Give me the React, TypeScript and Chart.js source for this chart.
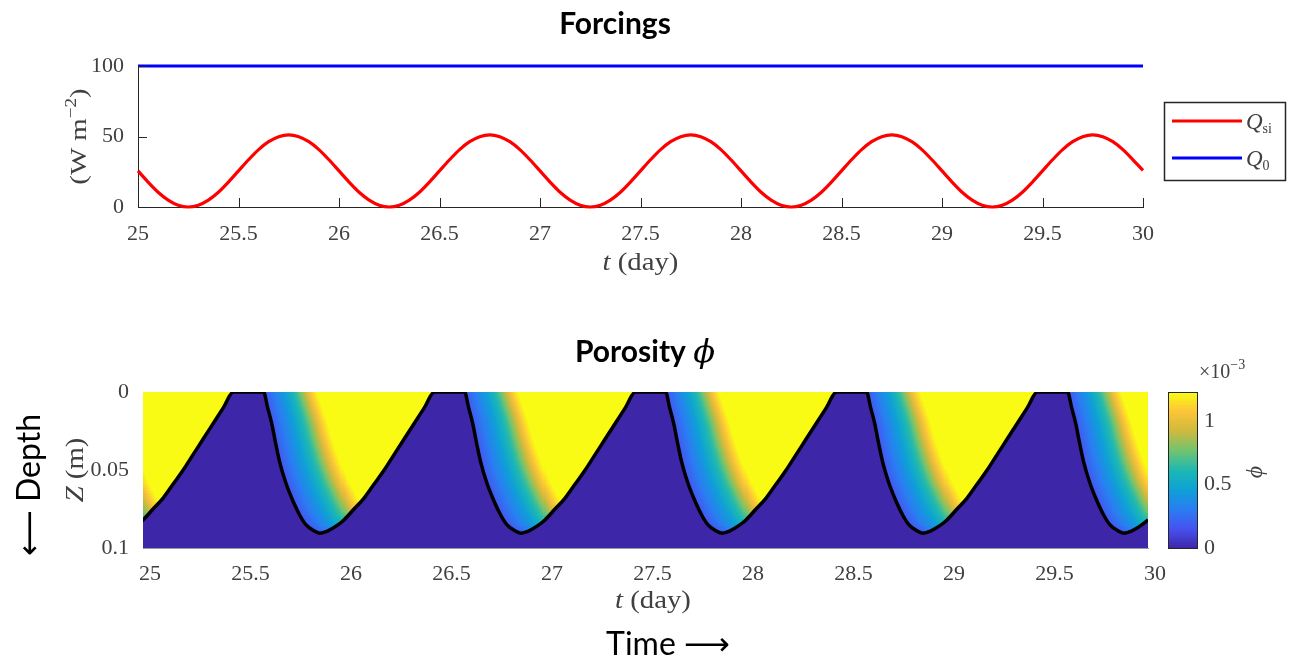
import React, { useEffect, useRef } from 'react';
import { Chart, registerables } from 'chart.js';
Chart.register(...registerables);

const SERIF = '"Liberation Serif", "DejaVu Serif", serif';
const SANS = 'Lato, "DejaVu Sans", sans-serif';
const AXIS_COLOR = '#262626';
const TEXT_COLOR = '#404040';

// ---------- top chart data (Forcings) ----------
const qDays = [25, 26, 27, 28, 29];
const qPhase = [0, 0.05, 0.1, 0.15, 0.2, 0.25, 0.3, 0.35, 0.4, 0.45, 0.5, 0.55, 0.6, 0.65, 0.7, 0.75, 0.8, 0.85, 0.9, 0.95];
const qSiValues = [25.6, 17.7, 10.5, 4.9, 1.3, 0, 1.3, 4.9, 10.5, 17.7, 25.6, 33.5, 40.7, 46.3, 49.9, 51.2, 49.9, 46.3, 40.7, 33.5];
const qSiEnd = { t: 30, v: 26 };
const q0Times = [25, 30];
const q0Values = [100, 100];

// ---------- bottom chart data (Porosity) ----------
const frontCycleStarts = [24, 25, 26, 27, 28, 29];
const frontPhase = [0.0, 0.05, 0.1, 0.15, 0.2, 0.25, 0.3, 0.35, 0.4, 0.45, 0.6, 0.62, 0.64, 0.66, 0.68, 0.71, 0.75, 0.78, 0.81, 0.85, 0.88, 0.92, 0.96];
const frontDepth = [0.082, 0.075, 0.068, 0.059, 0.05, 0.04, 0.03, 0.02, 0.01, 0.0, 0.0, 0.01, 0.02, 0.033, 0.045, 0.058, 0.071, 0.079, 0.085, 0.089, 0.0905, 0.089, 0.086];
const frontEnd = { t: 30, z: 0.082 };
// time after the front passed downward -> porosity ramp (x1e-3)
const rampWidthDepth = [0, 0.03, 0.06, 0.09];
const rampWidthDays = [0.27, 0.29, 0.32, 0.35];
const rampU = [0, 0.2, 0.37, 0.5, 0.62, 0.7, 0.8, 0.9, 1.0];
const rampNorm = [0.13, 0.25, 0.35, 0.45, 0.55, 0.65, 0.78, 0.9, 1.0];
const phiMax = 1.23;
const cbTicks = [0, 0.5, 1];
const parulaPos = [0, 0.125, 0.25, 0.375, 0.5, 0.625, 0.75, 0.875, 1];
const parulaRGB = [
  [62, 38, 168], [70, 82, 240], [42, 125, 242], [14, 160, 215], [28, 184, 178],
  [112, 196, 112], [204, 186, 62], [252, 196, 56], [249, 251, 21],
];

// ---------- derived ----------
const qSiPoints = qDays.flatMap((d) => qPhase.map((p, i) => ({ x: d + p, y: qSiValues[i] }))).concat([{ x: qSiEnd.t, y: qSiEnd.v }]);
const q0Points = q0Times.map((t, i) => ({ x: t, y: q0Values[i] }));
const frontT = frontCycleStarts.flatMap((d) => frontPhase.map((p) => d + p)).concat([frontEnd.t]);
const frontZ = frontCycleStarts.flatMap(() => frontDepth).concat([frontEnd.z]);
const frontPoints = frontT.map((t, i) => ({ x: t, y: frontZ[i] }));
const descIdx = frontPhase.map((p, i) => i).filter((i) => frontPhase[i] >= 0.6 && frontPhase[i] <= 0.88);
const descPhase = descIdx.map((i) => frontPhase[i]);
const descDepth = descIdx.map((i) => frontDepth[i]);

function interp(x: number, xs: number[], ys: number[]) {
  if (x <= xs[0]) return ys[0];
  if (x >= xs[xs.length - 1]) return ys[ys.length - 1];
  for (let i = 1; i < xs.length; i++) {
    if (x <= xs[i]) {
      const f = (x - xs[i - 1]) / (xs[i] - xs[i - 1] || 1);
      return ys[i - 1] + f * (ys[i] - ys[i - 1]);
    }
  }
  return ys[ys.length - 1];
}

function phiAt(t: number, z: number) {
  const f = interp(t, frontT, frontZ);
  if (z >= f) return 0;
  const p = interp(z, descDepth, descPhase);
  let cand = Math.floor(t) + p;
  if (cand > t) cand -= 1;
  const tau = t - cand;
  const w = interp(z, rampWidthDepth, rampWidthDays);
  return interp(tau / w, rampU, rampNorm) * phiMax;
}

const NT = 1000;
const NZ = 100;
const T0 = 25, T1 = 30, Z0 = 0, Z1 = 0.1;
const dT = (T1 - T0) / NT;
const dZ = (Z1 - Z0) / NZ;
const phiGrid: number[][] = [];
for (let i = 0; i < NT; i++) {
  const col: number[] = [];
  for (let j = 0; j < NZ; j++) col.push(phiAt(T0 + (i + 0.5) * dT, Z0 + (j + 0.5) * dZ));
  phiGrid.push(col);
}

const colorCache: Record<number, string> = {};
function parula(v: number) {
  const k = Math.max(0, Math.min(255, Math.round(v * 255)));
  if (colorCache[k]) return colorCache[k];
  const x = k / 255;
  const r = interp(x, parulaPos, parulaRGB.map((c) => c[0]));
  const g = interp(x, parulaPos, parulaRGB.map((c) => c[1]));
  const b = interp(x, parulaPos, parulaRGB.map((c) => c[2]));
  const s = `rgb(${Math.round(r)},${Math.round(g)},${Math.round(b)})`;
  colorCache[k] = s;
  return s;
}

type Part = { text: string; font: string; dy?: number };
function drawParts(ctx: CanvasRenderingContext2D, parts: Part[], x: number, y: number, align: string, color: string, sx = 1) {
  ctx.save();
  ctx.translate(x, y);
  ctx.scale(sx, 1);
  ctx.fillStyle = color;
  ctx.textAlign = 'left';
  ctx.textBaseline = 'alphabetic';
  const widths = parts.map((p) => { ctx.font = p.font; return ctx.measureText(p.text).width; });
  const total = widths.reduce((a, b) => a + b, 0);
  let cx = align === 'center' ? -total / 2 : align === 'right' ? -total : 0;
  parts.forEach((p, i) => { ctx.font = p.font; ctx.fillText(p.text, cx, p.dy || 0); cx += widths[i]; });
  ctx.restore();
}
function drawRotated(ctx: CanvasRenderingContext2D, parts: Part[], baselineX: number, centerY: number, color: string, sx = 1) {
  ctx.save();
  ctx.translate(baselineX, centerY);
  ctx.rotate(-Math.PI / 2);
  drawParts(ctx, parts, 0, 0, 'center', color, sx);
  ctx.restore();
}

const tickFont = { family: SERIF, size: 22 };
const fmt = (v: number) => String(Number(Number(v).toFixed(3)));

const forcingPlugin = {
  id: 'forcingDecor',
  afterDraw(chart: any) {
    const { ctx, chartArea: a, scales } = chart;
    const x = scales.x, y = scales.y;
    ctx.save();
    ctx.strokeStyle = AXIS_COLOR;
    ctx.lineWidth = 1;
    ctx.beginPath();
    x.ticks.forEach((t: any) => {
      const px = Math.round(x.getPixelForValue(t.value)) + 0.5;
      ctx.moveTo(px, a.bottom);
      ctx.lineTo(px, a.bottom - 9);
    });
    y.ticks.forEach((t: any) => {
      const py = Math.round(y.getPixelForValue(t.value)) + 0.5;
      ctx.moveTo(a.left, py);
      ctx.lineTo(a.left + 9, py);
    });
    ctx.stroke();
    // title
    drawParts(ctx, [{ text: 'Forcings', font: `bold 30px ${SANS}` }], 615, 34, 'center', '#000');
    // x label
    drawParts(ctx, [{ text: 't', font: `italic 25px ${SERIF}` }, { text: ' (day)', font: `25px ${SERIF}` }], (a.left + a.right) / 2, 270, 'center', TEXT_COLOR, 1.15);
    // y label
    drawRotated(ctx, [{ text: '(W m', font: `24px ${SERIF}` }, { text: '\u22122', font: `16px ${SERIF}`, dy: -10 }, { text: ')', font: `24px ${SERIF}` }], 86, (a.top + a.bottom) / 2, TEXT_COLOR, 1.2);
    // legend
    ctx.lineWidth = 1.5;
    ctx.strokeStyle = AXIS_COLOR;
    ctx.strokeRect(1164.5, 102.5, 121, 78);
    const ds = chart.data.datasets;
    const rows = [
      { y: 121, color: ds[0].borderColor, sub: 'si' },
      { y: 158, color: ds[1].borderColor, sub: '0' },
    ];
    rows.forEach((r) => {
      ctx.strokeStyle = r.color;
      ctx.lineWidth = 3;
      ctx.beginPath();
      ctx.moveTo(1172, r.y);
      ctx.lineTo(1242, r.y);
      ctx.stroke();
      drawParts(ctx, [{ text: 'Q', font: `italic 23px ${SERIF}` }, { text: r.sub, font: `14px ${SERIF}`, dy: 4 }], 1246, r.y + 8, 'left', TEXT_COLOR);
    });
    ctx.restore();
  },
};

const heatmapPlugin = {
  id: 'heatmap',
  beforeDatasetsDraw(chart: any) {
    const { ctx, chartArea: a, scales } = chart;
    const x = scales.x, y = scales.y;
    ctx.save();
    ctx.beginPath();
    ctx.rect(a.left, a.top, a.right - a.left, a.bottom - a.top);
    ctx.clip();
    for (let i = 0; i < NT; i++) {
      const t0 = T0 + i * dT;
      const x0 = Math.floor(x.getPixelForValue(t0));
      const x1 = Math.ceil(x.getPixelForValue(t0 + dT));
      let j = 0;
      while (j < NZ) {
        const col = parula(phiGrid[i][j] / phiMax);
        let k = j + 1;
        while (k < NZ && parula(phiGrid[i][k] / phiMax) === col) k++;
        const ya = y.getPixelForValue(Z0 + j * dZ);
        const yb = y.getPixelForValue(Z0 + k * dZ);
        const top = Math.floor(Math.min(ya, yb));
        const bot = Math.ceil(Math.max(ya, yb));
        ctx.fillStyle = col;
        ctx.fillRect(x0, top, Math.max(1, x1 - x0), bot - top);
        j = k;
      }
    }
    ctx.restore();
  },
  afterDraw(chart: any) {
    const { ctx, chartArea: a, scales } = chart;
    const cb = scales.cb;
    ctx.save();
    // colorbar
    const cbL = 1168, cbR = 1197;
    const steps = 123;
    for (let s = 0; s < steps; s++) {
      const v0 = (s / steps) * phiMax, v1 = ((s + 1) / steps) * phiMax;
      const ya = cb.getPixelForValue(v0), yb = cb.getPixelForValue(v1);
      ctx.fillStyle = parula((v0 + v1) / 2 / phiMax);
      ctx.fillRect(cbL, Math.floor(yb), cbR - cbL, Math.ceil(ya) - Math.floor(yb));
    }
    ctx.strokeStyle = AXIS_COLOR;
    ctx.lineWidth = 1;
    const cTop = cb.getPixelForValue(phiMax), cBot = cb.getPixelForValue(0);
    ctx.strokeRect(cbL + 0.5, Math.round(cTop) + 0.5, cbR - cbL, Math.round(cBot - cTop));
    ctx.fillStyle = TEXT_COLOR;
    ctx.font = `22px ${SERIF}`;
    ctx.textAlign = 'left';
    ctx.textBaseline = 'middle';
    cbTicks.forEach((v) => ctx.fillText(String(v), 1204, cb.getPixelForValue(v)));
    drawParts(ctx, [{ text: '\u00d710', font: `20px ${SERIF}` }, { text: '\u22123', font: `14px ${SERIF}`, dy: -9 }], 1199, 78, 'left', TEXT_COLOR);
    drawRotated(ctx, [{ text: '\u03d5', font: `italic 24px ${SERIF}` }], 1262, 172, TEXT_COLOR);
    // title
    drawParts(ctx, [{ text: 'Porosity ', font: `bold 30px ${SANS}` }, { text: '\u03d5', font: `italic 32px "DejaVu Serif", serif` }], 645, 62, 'center', '#000');
    // axis labels
    drawParts(ctx, [{ text: 't', font: `italic 25px ${SERIF}` }, { text: ' (day)', font: `25px ${SERIF}` }], 653, 308, 'center', TEXT_COLOR, 1.15);
    drawRotated(ctx, [{ text: 'Z', font: `italic 25px ${SERIF}` }, { text: ' (m)', font: `25px ${SERIF}` }], 83, (a.top + a.bottom) / 2, TEXT_COLOR, 1.15);
    // annotations
    drawRotated(ctx, [{ text: '\u27f5 Depth', font: `32px ${SANS}` }], 40, 185, '#000');
    drawParts(ctx, [{ text: 'Time \u27f6', font: `32px ${SANS}` }], 668, 355, 'center', '#000');
    ctx.restore();
  },
};

export default function App() {
  const ref1 = useRef<HTMLCanvasElement>(null);
  const ref2 = useRef<HTMLCanvasElement>(null);
  useEffect(() => {
    const c1 = new Chart(ref1.current as HTMLCanvasElement, {
      type: 'line',
      data: {
        datasets: [
          { label: 'Q_si', data: qSiPoints, borderColor: '#ff0000', borderWidth: 3.2, pointRadius: 0, cubicInterpolationMode: 'monotone', clip: 6 } as any,
          { label: 'Q_0', data: q0Points, borderColor: '#0000ff', borderWidth: 3, pointRadius: 0, clip: 6 } as any,
        ],
      },
      options: {
        animation: false,
        responsive: false,
        devicePixelRatio: 1,
        layout: { padding: { top: 66, left: 0, right: 146, bottom: 0 } },
        plugins: { legend: { display: false }, tooltip: { enabled: false }, title: { display: false } },
        scales: {
          x: {
            type: 'linear', min: 25, max: 30,
            ticks: { stepSize: 0.5, font: tickFont, color: TEXT_COLOR, padding: 6, autoSkip: false, maxRotation: 0, callback: fmt },
            grid: { display: false },
            border: { display: true, color: AXIS_COLOR, width: 1 },
            afterFit: (s: any) => { s.height = 93; },
          },
          y: {
            type: 'linear', min: 0, max: 100,
            ticks: { stepSize: 50, font: tickFont, color: TEXT_COLOR, padding: 6, callback: fmt },
            grid: { display: false },
            border: { display: true, color: AXIS_COLOR, width: 1 },
            afterFit: (s: any) => { s.width = 138; },
          },
        },
      } as any,
      plugins: [forcingPlugin],
    });
    const c2 = new Chart(ref2.current as HTMLCanvasElement, {
      type: 'line',
      data: {
        datasets: [
          { label: 'front', data: frontPoints, borderColor: '#000000', borderWidth: 3.5, pointRadius: 0, cubicInterpolationMode: 'monotone', yAxisID: 'y' } as any,
        ],
      },
      options: {
        animation: false,
        responsive: false,
        devicePixelRatio: 1,
        layout: { padding: { top: 92, left: 0, right: 141, bottom: 0 } },
        plugins: { legend: { display: false }, tooltip: { enabled: false }, title: { display: false } },
        scales: {
          x: {
            type: 'linear', min: 25, max: 30,
            ticks: { stepSize: 0.5, font: tickFont, color: TEXT_COLOR, padding: 5, autoSkip: false, maxRotation: 0, labelOffset: 7, callback: fmt },
            grid: { display: false },
            border: { display: true, color: '#9a9a9a', width: 1 },
            afterFit: (s: any) => { s.height = 114; },
          },
          y: {
            type: 'linear', min: 0, max: 0.1, reverse: true,
            ticks: { stepSize: 0.05, font: tickFont, color: TEXT_COLOR, padding: 6, callback: fmt },
            grid: { display: false },
            border: { display: false },
            afterFit: (s: any) => { s.width = 143; },
          },
          cb: { type: 'linear', display: false, position: 'right', min: 0, max: phiMax },
        },
      } as any,
      plugins: [heatmapPlugin],
    });
    return () => { c1.destroy(); c2.destroy(); };
  }, []);
  return (
    <div style={{ position: 'absolute', left: 0, top: 0, width: 1289, height: 662, background: '#fff', overflow: 'hidden' }}>
      <canvas ref={ref1} width={1289} height={300} style={{ position: 'absolute', left: 0, top: 0, width: 1289, height: 300 }} />
      <canvas ref={ref2} width={1289} height={362} style={{ position: 'absolute', left: 0, top: 300, width: 1289, height: 362 }} />
    </div>
  );
}
